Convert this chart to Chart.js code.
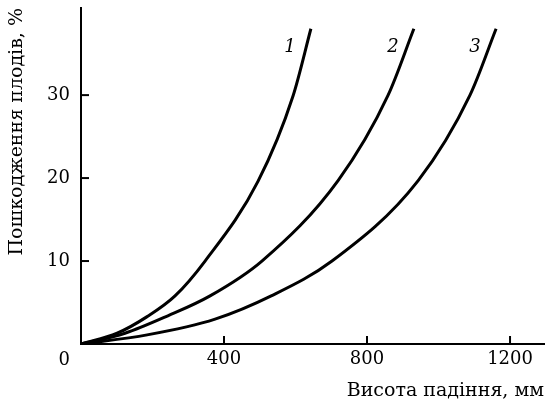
<!DOCTYPE html>
<html>
<head>
<meta charset="utf-8">
<script src="https://cdn.jsdelivr.net/npm/chart.js@4"></script>
<style>
  html, body { margin: 0; padding: 0; background: #fff; }
  #wrap { width: 554px; height: 399px; }
</style>
</head>
<body>
<div id="wrap"><canvas id="chart"></canvas></div>
<script>
const curveLabels = ['1', '2', '3'];
const heights1 = [0, 101, 185, 263, 347, 495, 593, 643];
const damage1 = [0, 1.3, 3.3, 5.8, 10, 19.6, 29.9, 38];
const heights2 = [0, 123, 243, 361, 506, 719, 859, 931];
const damage2 = [0, 1.3, 3.4, 5.8, 10, 19.7, 30, 38];
const heights3 = [0, 185, 375, 532, 702, 943, 1088, 1161];
const damage3 = [0, 1.1, 3.0, 5.8, 10, 19.7, 30, 38];
const xTicks = [400, 800, 1200];
const yTicks = [10, 20, 30];

const FONT = "'DejaVu Serif', serif";

const series = [[heights1, damage1], [heights2, damage2], [heights3, damage3]];

// short tick marks pointing into the plot, curve numbers and the corner zero
const extras = {
  id: 'extras',
  afterDraw(chart) {
    const ctx = chart.ctx;
    const x = chart.scales.x, y = chart.scales.y;
    ctx.save();
    ctx.strokeStyle = '#000';
    ctx.lineWidth = 2;
    xTicks.forEach(v => {
      const px = x.getPixelForValue(v);
      ctx.beginPath();
      ctx.moveTo(px, y.bottom);
      ctx.lineTo(px, y.bottom - 8);
      ctx.stroke();
    });
    yTicks.forEach(v => {
      const py = y.getPixelForValue(v);
      ctx.beginPath();
      ctx.moveTo(x.left, py);
      ctx.lineTo(x.left + 8, py);
      ctx.stroke();
    });
    ctx.fillStyle = '#000';
    ctx.font = 'italic 18px ' + FONT;
    ctx.textAlign = 'center';
    ctx.textBaseline = 'middle';
    chart.data.datasets.forEach((ds, i) => {
      const last = ds.data[ds.data.length - 1];
      const px = x.getPixelForValue(last.x);
      const py = y.getPixelForValue(last.y);
      ctx.fillText(curveLabels[i], px - 21, py + 19);
    });
    ctx.font = '18px ' + FONT;
    ctx.textAlign = 'right';
    ctx.fillText('0', x.left - 11, y.bottom + 16);
    ctx.restore();
  }
};

new Chart(document.getElementById('chart'), {
  type: 'scatter',
  data: {
    datasets: series.map((s, i) => ({
      label: curveLabels[i],
      data: s[0].map((h, j) => ({ x: h, y: s[1][j] })),
      showLine: true,
      borderColor: '#000',
      borderWidth: 3,
      pointRadius: 0,
      cubicInterpolationMode: 'monotone',
      fill: false
    }))
  },
  options: {
    responsive: true,
    maintainAspectRatio: false,
    animation: false,
    layout: { padding: { top: 8, right: 10, left: 0, bottom: 0 } },
    plugins: {
      legend: { display: false },
      tooltip: { enabled: false }
    },
    scales: {
      x: {
        type: 'linear',
        min: 0,
        max: 1295,
        afterBuildTicks: s => { s.ticks = xTicks.map(v => ({ value: v })); },
        afterFit: s => { s.height = 55; s.paddingLeft = 0; s.paddingRight = 0; },
        grid: { display: false, drawTicks: false },
        border: { display: true, color: '#000', width: 2 },
        ticks: {
          color: '#000', font: { family: FONT, size: 18 }, padding: 5, maxRotation: 0,
          callback: v => String(v)
        },
        title: {
          display: true,
          text: 'Висота падіння, мм',
          align: 'end',
          color: '#000',
          font: { family: FONT, size: 19 },
          padding: { top: 0, bottom: -3 }
        }
      },
      y: {
        type: 'linear',
        min: 0,
        max: 40.5,
        afterBuildTicks: s => { s.ticks = yTicks.map(v => ({ value: v })); },
        afterFit: s => { s.width = 81; s.paddingTop = 0; s.paddingBottom = 0; },
        grid: { display: false, drawTicks: false },
        border: { display: true, color: '#000', width: 2 },
        ticks: { color: '#000', font: { family: FONT, size: 18 }, padding: 11 },
        title: {
          display: true,
          text: 'Пошкодження плодів, %',
          align: 'end',
          color: '#000',
          font: { family: FONT, size: 19 },
          padding: { top: 6, bottom: 0 }
        }
      }
    }
  },
  plugins: [extras]
});
</script>
</body>
</html>
